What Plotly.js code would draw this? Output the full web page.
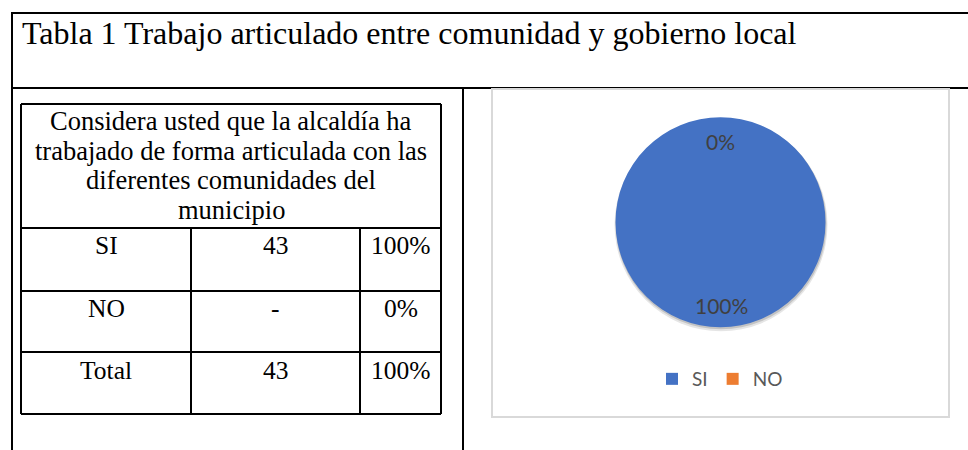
<!DOCTYPE html>
<html>
<head>
<meta charset="utf-8">
<script src="https://cdn.plot.ly/plotly-3.0.1.min.js"></script>
<style>
  html, body { margin: 0; padding: 0; background: #ffffff; }
  #chart { width: 968px; height: 450px; }
</style>
</head>
<body>
<div id="chart"></div>
<script>
// ---- data ----
const titleText = "Tabla 1 Trabajo articulado entre comunidad y gobierno local";
const questionLines = ["Considera usted que la alcaldía ha", "trabajado de forma articulada con las", "diferentes comunidades del", "municipio"];
const categories = ["SI", "NO"];
const counts = [43, 0];
const totalLabel = "Total";
const sliceColors = ["#4472C4", "#ED7D31"];

// ---- derived ----
const total = counts.reduce((a, b) => a + b, 0);
const pct = counts.map(v => Math.round(v / total * 100) + "%");
const countText = counts.map(v => v === 0 ? "-" : String(v));

// ---- layout helpers (pixel coordinates through hidden axes) ----
const W = 968, H = 450;
const shapes = [];
const annotations = [];
function line(x0, y0, x1, y1, color, width) {
  shapes.push({type: "line", xref: "x", yref: "y", x0: x0, y0: y0, x1: x1, y1: y1,
               line: {color: color, width: width}});
}
function txt(text, x, y, size, opts) {
  annotations.push(Object.assign({
    text: text, xref: "x", yref: "y", x: x, y: y, showarrow: false,
    xanchor: "center", yanchor: "middle",
    font: {family: "Liberation Serif, Times New Roman, serif", size: size, color: "#000000"}
  }, opts || {}));
}

// outer document table
line(12, 13, W, 13, "#000", 2);
line(12, 12, 12, H, "#000", 2);
line(12, 88, W, 88, "#000", 2);
line(463, 88, 463, H, "#000", 2);
txt(titleText, 20, 33, 32, {xanchor: "left"});

// inner table
const tx0 = 21, tx1 = 441, cA = 191, cB = 360;
const rowY = [104, 228, 291, 352, 414];
line(tx0, rowY[0], tx1, rowY[0], "#000", 2);
line(tx0, rowY[0], tx0, rowY[4], "#000", 2);
line(tx1, rowY[0], tx1, rowY[4], "#000", 2);
for (let i = 1; i < rowY.length; i++) line(tx0, rowY[i], tx1, rowY[i], "#000", 2);
line(cA, rowY[1], cA, rowY[4], "#000", 2);
line(cB, rowY[1], cB, rowY[4], "#000", 2);
questionLines.forEach((s, i) => txt(s, (tx0 + tx1) / 2, 121 + 29.5 * i, 26.5));

const rowLabels = categories.concat([totalLabel]);
const rowCounts = countText.concat([String(total)]);
const rowPcts = pct.concat(["100%"]);
const textY = [245.5, 308, 370];
for (let r = 0; r < 3; r++) {
  txt(rowLabels[r], (tx0 + cA) / 2, textY[r], 25.5);
  txt(rowCounts[r], (cA + cB) / 2, textY[r], 25.5);
  txt(rowPcts[r], (cB + tx1) / 2, textY[r], 25.5);
}

// chart frame
shapes.push({type: "rect", xref: "x", yref: "y", x0: 492, y0: 89, x1: 949, y1: 417,
             line: {color: "#d9d9d9", width: 2}, fillcolor: "rgba(0,0,0,0)"});

// pie geometry
const cx = 720.5, cy = 222.3, R = 105;
// soft shadow under pie
shapes.push({type: "circle", xref: "x", yref: "y", layer: "below",
             x0: cx - R - 1, x1: cx + R + 2, y0: cy - R + 1, y1: cy + R + 4,
             fillcolor: "rgba(0,0,0,0.10)", line: {width: 0}});
shapes.push({type: "circle", xref: "x", yref: "y", layer: "below",
             x0: cx - R, x1: cx + R + 1, y0: cy - R + 1, y1: cy + R + 2,
             fillcolor: "rgba(0,0,0,0.15)", line: {width: 0}});

// pie labels (values from data)
const labelFont = {family: "Lato, Carlito, Calibri, sans-serif", size: 21, color: "#404040"};
annotations.push({text: pct[1], xref: "x", yref: "y", x: cx, y: 141, showarrow: false,
                  xanchor: "center", yanchor: "middle", font: labelFont});
annotations.push({text: pct[0], xref: "x", yref: "y", x: cx + 0.5, y: 305.5, showarrow: false,
                  xanchor: "center", yanchor: "middle", font: labelFont});

const trace = {
  type: "pie",
  labels: categories,
  values: counts,
  sort: false,
  direction: "clockwise",
  rotation: 0,
  textinfo: "none",
  hoverinfo: "label+value+percent",
  marker: {colors: sliceColors, line: {color: "#ffffff", width: 0}},
  domain: {x: [(cx - R) / W, (cx + R) / W], y: [1 - (cy + R) / H, 1 - (cy - R) / H]},
  showlegend: true
};

const layout = {
  width: W, height: H,
  margin: {l: 0, r: 0, t: 0, b: 0},
  paper_bgcolor: "#ffffff",
  plot_bgcolor: "rgba(0,0,0,0)",
  xaxis: {range: [0, W], visible: false, fixedrange: true},
  yaxis: {range: [H, 0], visible: false, fixedrange: true},
  showlegend: true,
  legend: {orientation: "h", x: 720 / W, xanchor: "center", y: 1 - 379 / H, yanchor: "middle",
           font: {family: "Lato, Carlito, Calibri, sans-serif", size: 19, color: "#595959"},
           itemwidth: 30, bgcolor: "rgba(0,0,0,0)"},
  shapes: shapes,
  annotations: annotations
};

Plotly.newPlot("chart", [trace], layout, {displayModeBar: false, staticPlot: true});
</script>
</body>
</html>
